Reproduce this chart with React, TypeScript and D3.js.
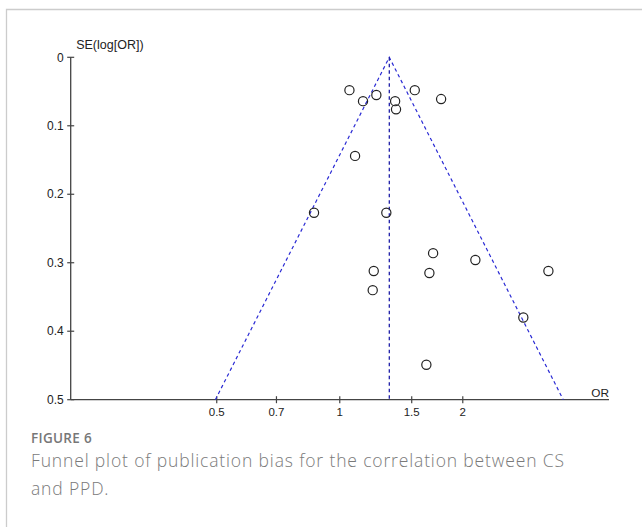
import { useEffect, useRef } from "react";
import * as d3 from "d3";

// study estimates
const orValues = [1.056, 1.14, 1.229, 1.366, 1.373, 1.526, 1.77, 1.09, 0.865, 1.3, 1.692, 2.147, 3.24, 1.211, 1.657, 1.204, 2.813, 1.629];
const seValues = [0.048, 0.064, 0.055, 0.064, 0.076, 0.048, 0.061, 0.144, 0.227, 0.227, 0.286, 0.296, 0.312, 0.312, 0.315, 0.34, 0.38, 0.449];
const pooledOR = 1.322;
const xTicks = [0.5, 0.7, 1, 1.5, 2];
const yTicks = [0, 0.1, 0.2, 0.3, 0.4, 0.5];

export default function App() {
  const ref = useRef<SVGSVGElement>(null);

  useEffect(() => {
    const svg = d3.select(ref.current);
    svg.selectAll("*").remove();

    const left = 70.7;
    const right = 609;
    const top = 57.3;
    const bottom = 399.7;

    const x = d3.scaleLog().domain([Math.exp(-1.516), Math.exp(1.517)]).range([left, right]);
    const y = d3.scaleLinear().domain([0, 0.5]).range([top, bottom]);

    // figure frame
    svg.append("path").attr("d", "M6.5,527 V9.5 H642").attr("fill", "none").attr("stroke", "#ccc").attr("stroke-width", 1.3);

    // axes
    const axisColor = "#444";
    svg.append("line").attr("x1", left).attr("x2", left).attr("y1", top).attr("y2", bottom).attr("stroke", axisColor).attr("stroke-width", 1.3);
    svg.append("line").attr("x1", left).attr("x2", right).attr("y1", bottom).attr("y2", bottom).attr("stroke", axisColor).attr("stroke-width", 1.3);

    const font = "'Liberation Sans', Arial, sans-serif";
    const yg = svg.append("g");
    yTicks.forEach((t) => {
      yg.append("line").attr("x1", left - 3.5).attr("x2", left + 3.5).attr("y1", y(t)).attr("y2", y(t)).attr("stroke", axisColor).attr("stroke-width", 1.2);
      yg.append("text").attr("x", left - 7).attr("y", y(t)).attr("dy", "0.35em").attr("text-anchor", "end")
        .attr("font-family", font).attr("font-size", 12).attr("fill", "#222").text(String(t));
    });
    const xg = svg.append("g");
    xTicks.forEach((t) => {
      xg.append("line").attr("x1", x(t)).attr("x2", x(t)).attr("y1", bottom - 3.5).attr("y2", bottom + 3.5).attr("stroke", axisColor).attr("stroke-width", 1.2);
      xg.append("text").attr("x", x(t)).attr("y", bottom + 12).attr("dy", "0.35em").attr("text-anchor", "middle")
        .attr("font-family", font).attr("font-size", 11.5).attr("fill", "#222").text(String(t));
    });
    svg.append("text").attr("x", left + 5.5).attr("y", 49).attr("font-family", font).attr("font-size", 12.5).attr("fill", "#222").text("SE(log[OR])");
    svg.append("text").attr("x", right).attr("y", 396.5).attr("text-anchor", "end").attr("font-family", font).attr("font-size", 11.8).attr("fill", "#222").text("OR");

    // funnel: pooled estimate +/- 1.96 SE
    const blue = "#2a2ad4";
    const seMax = 0.5;
    const funnel = [
      [pooledOR * Math.exp(-1.96 * seMax), seMax],
      [pooledOR, 0],
      [pooledOR * Math.exp(1.96 * seMax), seMax],
    ];
    svg.append("path")
      .attr("d", d3.line<number[]>().x((d) => x(d[0])).y((d) => y(d[1]))(funnel))
      .attr("fill", "none").attr("stroke", blue).attr("stroke-width", 1.2).attr("stroke-dasharray", "3.5,3");
    svg.append("line").attr("x1", x(pooledOR)).attr("x2", x(pooledOR)).attr("y1", y(0)).attr("y2", y(seMax))
      .attr("stroke", "#1f1fa8").attr("stroke-width", 1.3).attr("stroke-dasharray", "3.5,3");

    // studies
    svg.append("g").selectAll("circle").data(orValues).enter().append("circle")
      .attr("cx", (d) => x(d)).attr("cy", (d, i) => y(seValues[i])).attr("r", 4.6)
      .attr("fill", "none").attr("stroke", "#222").attr("stroke-width", 1.2);

    // caption
    const cap = "'Open Sans', 'Noto Sans', sans-serif";
    svg.append("text").attr("x", 31).attr("y", 443).attr("font-family", cap).attr("font-weight", 600).attr("font-size", 13.5)
      .attr("letter-spacing", 0.3).attr("fill", "#777").text("FIGURE 6");
    svg.append("text").attr("x", 31).attr("y", 467).attr("font-family", cap).attr("font-weight", 300).attr("font-size", 17.5)
      .attr("letter-spacing", 0.85).attr("fill", "#7a7a7a")
      .text("Funnel plot of publication bias for the correlation between CS");
    svg.append("text").attr("x", 31).attr("y", 495).attr("font-family", cap).attr("font-weight", 300).attr("font-size", 17.5)
      .attr("letter-spacing", 0.85).attr("fill", "#7a7a7a").text("and PPD.");
  }, []);

  return <svg ref={ref} width={642} height={527} style={{ position: "absolute", left: 0, top: 0, background: "#fff" }}></svg>;
}
